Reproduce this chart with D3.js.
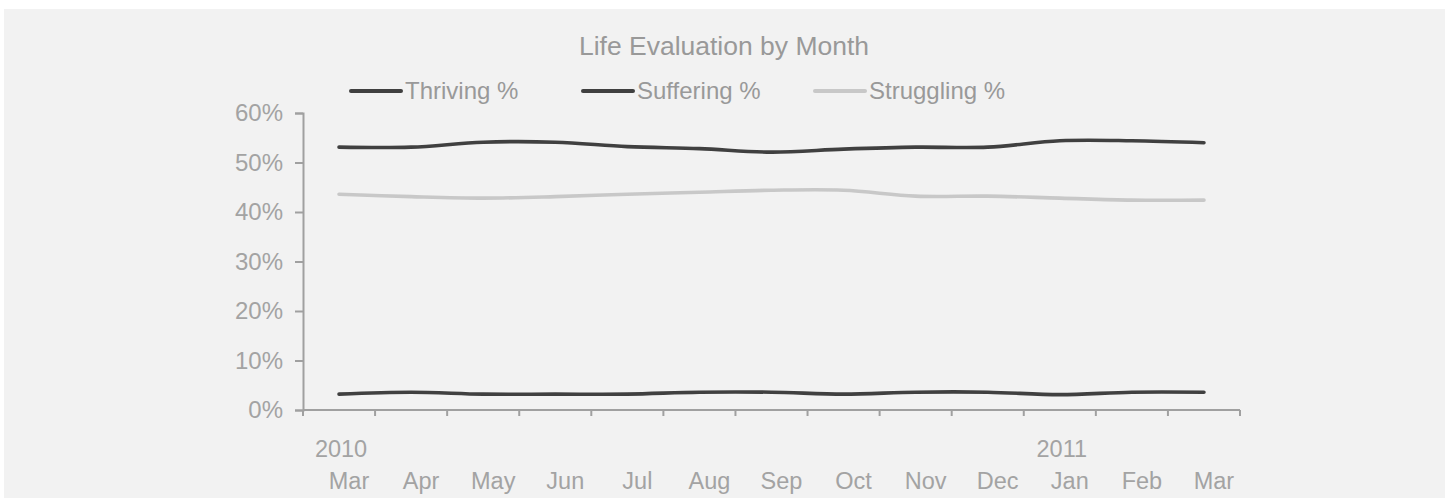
<!DOCTYPE html>
<html>
<head>
<meta charset="utf-8">
<script src="https://cdn.jsdelivr.net/npm/d3@7"></script>
<style>
  html, body { margin: 0; padding: 0; background: #fff; }
  svg { display: block; font-family: "Liberation Sans", Arial, sans-serif; }
</style>
</head>
<body>
<div id="chart"></div>
<script>
var width = 1445;
var height = 498;

// data
var months = ["Mar", "Apr", "May", "Jun", "Jul", "Aug", "Sep", "Oct", "Nov", "Dec", "Jan", "Feb", "Mar"];
var years = ["2010", "", "", "", "", "", "", "", "", "", "2011", "", ""];
var thriving = [53.1, 53.1, 54.1, 54.1, 53.2, 52.8, 52.1, 52.7, 53.1, 53.1, 54.4, 54.4, 54.0];
var suffering = [3.2, 3.6, 3.2, 3.2, 3.2, 3.6, 3.6, 3.2, 3.6, 3.6, 3.1, 3.6, 3.6];
var struggling = [43.6, 43.1, 42.8, 43.1, 43.6, 44.0, 44.4, 44.4, 43.2, 43.2, 42.8, 42.4, 42.4];
var yTicks = [0, 10, 20, 30, 40, 50, 60];

var series = [
    {name: "Thriving %", values: thriving, color: "#404040"},
    {name: "Suffering %", values: suffering, color: "#404040"},
    {name: "Struggling %", values: struggling, color: "#c8c8c8"}
];

var margin = {left: 303, right: 205, top: 113, bottom: 88};
var textColor = "#a3a3a3";
var axisColor = "#a0a0a0";

var svg = d3.select("#chart")
            .append("svg")
            .attr("width", width)
            .attr("height", height);

// grey panel
svg.append("rect")
    .attr("x", 4)
    .attr("y", 9)
    .attr("width", width - 4)
    .attr("height", height - 9)
    .attr("fill", "#f2f2f2");

var idx = d3.range(months.length);

var x = d3.scaleBand()
            .domain(idx)
            .range([margin.left, width - margin.right]);

var y = d3.scaleLinear()
            .domain([0, 60])
            .range([height - margin.bottom, margin.top]);

// title
svg.append("text")
    .attr("x", 724)
    .attr("y", 55)
    .attr("text-anchor", "middle")
    .attr("fill", "#999")
    .style("font-size", "26.5px")
    .text("Life Evaluation by Month");

// legend
var legend = svg.selectAll("g.legend")
                .data(series)
                .enter()
                .append("g")
                .attr("class", "legend")
                .attr("transform", function(d, i){ return "translate(" + (351 + i * 232) + ",91)"; });

legend.append("line")
    .attr("x1", 0)
    .attr("x2", 50)
    .attr("stroke", function(d){ return d.color; })
    .attr("stroke-width", 4)
    .attr("stroke-linecap", "round");

legend.append("text")
    .attr("x", 54)
    .attr("y", 8)
    .attr("fill", "#999")
    .style("font-size", "24px")
    .text(function(d){ return d.name; });

// y axis
var yAxis = svg.append("g")
    .attr("transform", "translate(" + margin.left + ",0)")
    .call(d3.axisLeft(y).tickValues(yTicks).tickSize(8).tickPadding(12)
            .tickFormat(function(d){ return d + "%"; }));

yAxis.select(".domain").attr("stroke", axisColor).attr("stroke-width", 2);
yAxis.selectAll(".tick line").attr("stroke", axisColor).attr("stroke-width", 2);
yAxis.selectAll(".tick text")
    .attr("fill", textColor)
    .style("font-size", "24px")
    .style("font-family", "Liberation Sans, Arial, sans-serif");

// x axis line with ticks at category boundaries
var xLine = svg.append("g");
xLine.append("line")
    .attr("x1", x.range()[0])
    .attr("x2", x.range()[1])
    .attr("y1", y(0))
    .attr("y2", y(0))
    .attr("stroke", axisColor)
    .attr("stroke-width", 2);

var bounds = idx.map(function(i){ return x(i); }).concat([x.range()[1]]);
xLine.selectAll("line.xtick")
    .data(bounds)
    .enter()
    .append("line")
    .attr("class", "xtick")
    .attr("x1", function(d){ return d; })
    .attr("x2", function(d){ return d; })
    .attr("y1", y(0))
    .attr("y2", y(0) + 6)
    .attr("stroke", axisColor)
    .attr("stroke-width", 2);

// month labels sit a little right of the band centre, like the original
svg.selectAll("text.month")
    .data(idx)
    .enter()
    .append("text")
    .attr("class", "month")
    .attr("x", function(i){ return x(i) + x.bandwidth() / 2 + 10; })
    .attr("y", 489)
    .attr("text-anchor", "middle")
    .attr("fill", textColor)
    .style("font-size", "23.5px")
    .text(function(i){ return months[i]; });

svg.selectAll("text.year")
    .data(idx.filter(function(i){ return years[i] !== ""; }))
    .enter()
    .append("text")
    .attr("class", "year")
    .attr("x", function(i){ return x(i) + x.bandwidth() / 2 + 2; })
    .attr("y", 457)
    .attr("text-anchor", "middle")
    .attr("fill", textColor)
    .style("font-size", "23.5px")
    .text(function(i){ return years[i]; });

// lines
var line = d3.line()
            .x(function(d, i){ return x(i) + x.bandwidth() / 2; })
            .y(function(d){ return y(d); })
            .curve(d3.curveCatmullRom);

svg.selectAll("path.series")
    .data(series.slice().reverse())
    .enter()
    .append("path")
    .attr("class", "series")
    .attr("d", function(d){ return line(d.values); })
    .attr("fill", "none")
    .attr("stroke", function(d){ return d.color; })
    .attr("stroke-width", 3.6)
    .attr("stroke-linecap", "round")
    .attr("stroke-linejoin", "round");
</script>
</body>
</html>
